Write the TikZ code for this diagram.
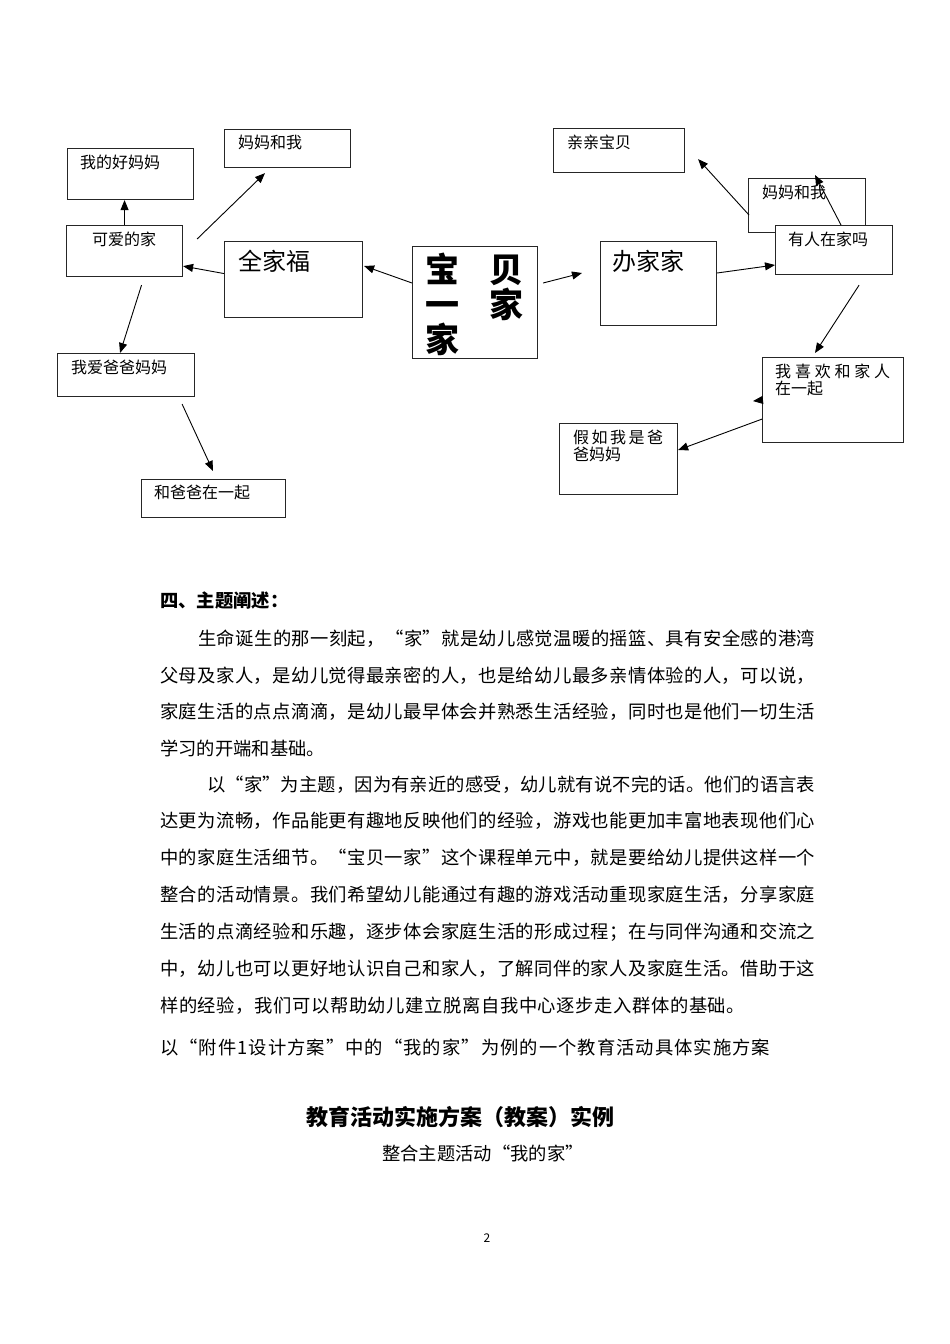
\documentclass[tikz,border=0pt]{standalone}
\usepackage{fontspec}
\newfontfamily\cjk{Noto Sans CJK SC}
\usetikzlibrary{calc,arrows.meta}

% spread the characters of one line over a given width
\def\spreadline#1{\spreadi#1\relax\relax}
\def\spreadi#1#2{#1\ifx\relax#2\else\hskip 0pt plus 1fil\relax\expandafter\spreadi\expandafter#2\fi}

\begin{document}
\begin{tikzpicture}[x=1pt,y=-1pt,
  box/.style={draw=black!85, line width=1.1pt, fill=white, anchor=north west, inner sep=0pt},
  lbl/.style={anchor=north west, inner sep=0pt, align=left, font=\cjk\fontsize{16}{16.5}\selectfont},
  big/.style={lbl, font=\cjk\fontsize{24}{26}\selectfont},
  txt/.style={anchor=west, inner sep=0pt, font=\cjk\fontsize{18.3}{20}\selectfont},
  link/.style={->, line width=0.9pt},
  >={Triangle[length=10pt,width=8pt]}]
  \fill[white] (0,0) rectangle (950,1344);
  \useasboundingbox (0,0) rectangle (950,1344);

  % boxes, left part
  \node[box, minimum width=126, minimum height=51] (haomama) at (67,148) {};
  \node[box, minimum width=126, minimum height=38] (mamawoL) at (224,129) {};
  \node[box, minimum width=116, minimum height=51] (keai) at (66,225) {};
  \node[box, minimum width=138, minimum height=76] (quanjiafu) at (224,241) {};
  \node[box, minimum width=137, minimum height=43] (woai) at (57,353) {};
  \node[box, minimum width=144, minimum height=38] (babayiqi) at (141,479) {};
  \node[lbl] at ($(haomama.north west)+(13,7)$) {我的好妈妈};
  \node[lbl] at ($(mamawoL.north west)+(14,6)$) {妈妈和我};
  \node[lbl] at ($(keai.north west)+(26,7)$) {可爱的家};
  \node[big] at ($(quanjiafu.north west)+(14,9)$) {全家福};
  \node[lbl] at ($(woai.north west)+(14,7)$) {我爱爸爸妈妈};
  \node[lbl] at ($(babayiqi.north west)+(13,6)$) {和爸爸在一起};

  % centre box
  \node[box, minimum width=125, minimum height=112] (baobei) at (412,246) {};
  \node[lbl, font=\cjk\bfseries\fontsize{34}{35}\selectfont] at ($(baobei.north west)+(13,7)$)
    {宝\hspace{30pt}贝\\一\hspace{30pt}家\\家};

  % boxes, right part
  \node[box, minimum width=131, minimum height=44] (qinqin) at (553,128) {};
  \node[box, minimum width=116, minimum height=84] (banjiajia) at (600,241) {};
  \node[box, minimum width=117, minimum height=54] (mamawoR) at (748,178) {};
  \node[box, minimum width=117, minimum height=49] (youren) at (775,225) {};
  \node[box, minimum width=141, minimum height=85] (xihuan) at (762,357) {};
  \node[box, minimum width=118, minimum height=71] (jiaru) at (559,423) {};
  \node[lbl] at ($(qinqin.north west)+(14,7)$) {亲亲宝贝};
  \node[big] at ($(banjiajia.north west)+(12,9)$) {办家家};
  \node[lbl] at ($(mamawoR.north west)+(14,7)$) {妈妈和我};
  \node[lbl] at ($(youren.north west)+(13,7)$) {有人在家吗};
  \node[lbl] at ($(xihuan.north west)+(13,7)$) {\makebox[115pt][s]{\spreadline{我喜欢和家人}}\\在一起};
  \node[lbl] at ($(jiaru.north west)+(14,7)$) {\makebox[90pt][s]{\spreadline{假如我是爸}}\\爸妈妈};

  % arrows
  \draw[link] (keai.north) -- (keai.north |- haomama.south);
  \draw[link] ($(keai.north east)+(14,14)$) -- ($(mamawoL.south west)+(41,5)$);
  \draw[link] ($(quanjiafu.west)+(0,-6)$) -- ($(keai.south east)+(0,-11)$);
  \draw[link] ($(keai.south)+(17,8)$) -- ($(woai.north)+(-6,0)$);
  \draw[link] ($(woai.south east)+(-13,7)$) -- ($(babayiqi.north west)+(72,-8)$);
  \draw[link] ($(baobei.north west)+(0,37)$) -- ($(quanjiafu.north east)+(1,25)$);
  \draw[link] ($(baobei.north east)+(5,37)$) -- ($(banjiajia.north west)+(-18,32)$);
  \draw[link] ($(banjiajia.north east)+(0,32)$) -- ($(youren.north west)+(0,40)$);
  \draw[link] ($(youren.north west)+(66,0)$) -- ($(mamawoR.north)+(8,-3)$);
  \draw[link] ($(mamawoR.north west)+(1,37)$) -- ($(qinqin.south east)+(13,-14)$);
  \draw[link] ($(youren.south east)+(-34,10)$) -- ($(xihuan.north west)+(53,-4)$);
  \draw[link] ($(xihuan.south west)+(0,-24)$) -- ($(jiaru.north east)+(0,27)$);
  \draw[link] (xihuan.west) -- ++(-9,1);

  % text of the page
  \node[txt, font=\cjk\bfseries\fontsize{18.3}{20}\selectfont] (head) at (160,601) {四、主题阐述：};
  \node[txt] (p1) at (198,639) {\makebox[617pt][s]{\spreadline{生命诞生的那一刻起，“家”就是幼儿感觉温暖的摇篮、具有安全感的港湾}}};
  \node[txt] (p2) at (160,676) {\makebox[655pt][s]{\spreadline{父母及家人，是幼儿觉得最亲密的人，也是给幼儿最多亲情体验的人，可以说，}}};
  \node[txt] (p3) at (160,712) {\makebox[655pt][s]{\spreadline{家庭生活的点点滴滴，是幼儿最早体会并熟悉生活经验，同时也是他们一切生活}}};
  \node[txt] (p4) at (160,748) {学习的开端和基础。};
  \node[txt] (p5) at (207,785) {\makebox[608pt][s]{\spreadline{以“家”为主题，因为有亲近的感受，幼儿就有说不完的话。他们的语言表}}};
  \node[txt] (p6) at (160,821) {\makebox[655pt][s]{\spreadline{达更为流畅，作品能更有趣地反映他们的经验，游戏也能更加丰富地表现他们心}}};
  \node[txt] (p7) at (160,858) {\makebox[655pt][s]{\spreadline{中的家庭生活细节。“宝贝一家”这个课程单元中，就是要给幼儿提供这样一个}}};
  \node[txt] (p8) at (160,895) {\makebox[655pt][s]{\spreadline{整合的活动情景。我们希望幼儿能通过有趣的游戏活动重现家庭生活，分享家庭}}};
  \node[txt] (p9) at (160,932) {\makebox[655pt][s]{\spreadline{生活的点滴经验和乐趣，逐步体会家庭生活的形成过程；在与同伴沟通和交流之}}};
  \node[txt] (p10) at (160,969) {\makebox[655pt][s]{\spreadline{中，幼儿也可以更好地认识自己和家人，了解同伴的家人及家庭生活。借助于这}}};
  \node[txt] (p11) at (160,1006) {\makebox[585pt][s]{\spreadline{样的经验，我们可以帮助幼儿建立脱离自我中心逐步走入群体的基础。}}};
  \node[txt] (p12) at (160,1048) {\makebox[610pt][s]{\spreadline{以“附件1设计方案”中的“我的家”为例的一个教育活动具体实施方案}}};
  \node[font=\cjk\bfseries\fontsize{22}{24}\selectfont, inner sep=0pt] (title) at (460,1117) {教育活动实施方案（教案）实例};
  \node[font=\cjk\fontsize{18.3}{20}\selectfont, inner sep=0pt] (subtitle) at (483,1153) {整合主题活动“我的家”};
  \node[font=\cjk\fontsize{12}{14}\selectfont, inner sep=0pt] (pageno) at (487,1238) {2};
\end{tikzpicture}
\end{document}
